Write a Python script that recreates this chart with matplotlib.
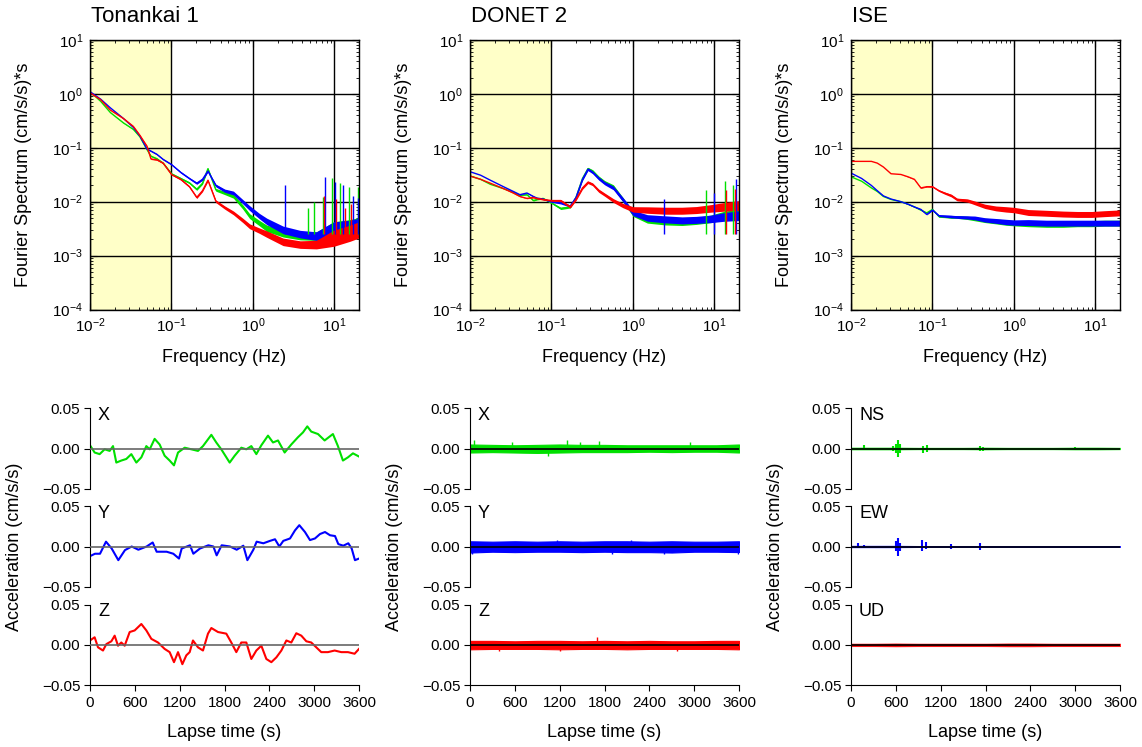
import numpy as np
import matplotlib
matplotlib.use("Agg")
import matplotlib.pyplot as plt
from matplotlib.ticker import LogLocator, FixedLocator, FuncFormatter, NullFormatter

plt.rcParams['font.family'] = ['Liberation Sans', 'DejaVu Sans']
plt.rcParams['mathtext.fontset'] = 'custom'
plt.rcParams['mathtext.rm'] = 'Liberation Sans'
plt.rcParams['mathtext.default'] = 'regular'

GREEN = '#00E000'
BLUE = '#0000FF'
RED = '#FF0000'

# ---------------- spectra ----------------
stations = ['Tonankai 1', 'DONET 2', 'ISE']

f_ton = [0.01, 0.0135, 0.0178, 0.0257, 0.034, 0.041, 0.05, 0.056, 0.066, 0.079, 0.1, 0.13, 0.166, 0.204,
         0.24, 0.28, 0.35, 0.45, 0.575, 0.75, 0.91, 1.2, 1.48, 2.34, 3.8, 6.0, 9.8, 15.5, 20]
ton_blue = [1.1, 0.80, 0.55, 0.35, 0.24, 0.165, 0.095, 0.087, 0.076, 0.061, 0.049, 0.035, 0.027, 0.022,
            0.026, 0.037, 0.020, 0.016, 0.0145, 0.010, 0.0076, 0.0054, 0.0043, 0.0030, 0.0025, 0.0023,
            0.0030, 0.0032, 0.0035]
ton_green = [1.1, 0.73, 0.45, 0.29, 0.22, 0.16, 0.093, 0.070, 0.063, 0.052, 0.033, 0.027, 0.0224, 0.017,
             0.022, 0.041, 0.0166, 0.0145, 0.0126, 0.0080, 0.0054, 0.0040, 0.0032, 0.0026, 0.0023, 0.0023,
             0.0030, 0.0033, 0.0036]
ton_red = [1.05, 0.78, 0.50, 0.35, 0.25, 0.17, 0.107, 0.062, 0.060, 0.052, 0.032, 0.026, 0.019, 0.012,
           0.016, 0.025, 0.0102, 0.0078, 0.0062, 0.0045, 0.0035, 0.0029, 0.0025, 0.0018, 0.0016, 0.0016,
           0.0021, 0.0026, 0.0030]
ton_spread = [0, 0, 0, 0.005, 0.005, 0.005, 0.01, 0.01, 0.01, 0.012, 0.012, 0.015, 0.015, 0.02, 0.02, 0.02,
              0.025, 0.03, 0.035, 0.04, 0.045, 0.05, 0.06, 0.07, 0.07, 0.08, 0.15, 0.15, 0.15]
ton_spikes = {
    GREEN: ([4.8, 5.6, 7.2, 9.3, 11.7, 15.1, 19.5], [0.0076, 0.0098, 0.012, 0.0275, 0.022, 0.019, 0.019]),
    BLUE: ([2.45, 7.6, 10.2, 12.9, 17.0, 19.5], [0.020, 0.029, 0.023, 0.020, 0.0126, 0.0117]),
    RED: ([7.4, 10.5, 13.5, 16.0], [0.0126, 0.011, 0.0078, 0.009]),
}

f_don = [0.01, 0.0135, 0.0178, 0.0257, 0.034, 0.041, 0.05, 0.06, 0.066, 0.079, 0.1, 0.13, 0.17, 0.2,
         0.24, 0.28, 0.32, 0.38, 0.45, 0.575, 0.75, 1.0, 1.5, 2.5, 4, 6, 9, 13, 20]
don_blue = [0.036, 0.031, 0.025, 0.019, 0.0155, 0.0135, 0.0145, 0.0125, 0.0117, 0.0112, 0.0100, 0.0095,
            0.0083, 0.012, 0.026, 0.040, 0.035, 0.027, 0.022, 0.018, 0.011, 0.0062, 0.0050, 0.0047,
            0.0045, 0.0046, 0.0048, 0.0052, 0.0055]
don_green = [0.030, 0.026, 0.021, 0.0175, 0.015, 0.013, 0.0135, 0.0105, 0.0110, 0.0115, 0.0095, 0.0075,
             0.0080, 0.012, 0.027, 0.041, 0.037, 0.028, 0.023, 0.019, 0.011, 0.0060, 0.0046, 0.0043,
             0.0042, 0.0044, 0.0048, 0.0055, 0.0060]
don_red = [0.030, 0.026, 0.022, 0.0175, 0.0145, 0.0125, 0.0115, 0.012, 0.0115, 0.0110, 0.0105, 0.0105,
           0.0080, 0.011, 0.018, 0.023, 0.021, 0.016, 0.0135, 0.0105, 0.0085, 0.0072, 0.0070, 0.0068,
           0.0068, 0.0070, 0.0075, 0.0080, 0.0085]
don_spread = [0, 0, 0, 0, 0.005, 0.005, 0.005, 0.01, 0.01, 0.012, 0.012, 0.02, 0.02, 0.02, 0.025, 0.025,
              0.025, 0.03, 0.03, 0.035, 0.04, 0.05, 0.06, 0.065, 0.065, 0.065, 0.07, 0.08, 0.09]
don_spikes = {
    GREEN: ([7.9, 13.5, 17.0], [0.0166, 0.024, 0.020]),
    BLUE: ([2.4, 9.8, 18.6], [0.011, 0.0145, 0.026]),
    RED: ([14.0, 18.0], [0.0166, 0.017]),
}

f_ise = [0.01, 0.0135, 0.0178, 0.021, 0.025, 0.031, 0.041, 0.05, 0.06, 0.072, 0.085, 0.1, 0.12, 0.14,
         0.17, 0.2, 0.27, 0.33, 0.44, 0.6, 0.8, 1.0, 1.5, 2.5, 4, 6, 9, 13, 20]
ise_red = [0.056, 0.056, 0.056, 0.052, 0.044, 0.033, 0.032, 0.029, 0.026, 0.018, 0.019, 0.019, 0.016,
           0.0145, 0.013, 0.011, 0.0105, 0.0095, 0.0082, 0.0075, 0.0072, 0.0070, 0.0063, 0.0061, 0.0059,
           0.0058, 0.0058, 0.0060, 0.0062]
ise_blue = [0.034, 0.027, 0.020, 0.016, 0.0128, 0.0112, 0.0100, 0.0090, 0.0080, 0.0072, 0.0058, 0.0070,
            0.0055, 0.0054, 0.0053, 0.0052, 0.0051, 0.0050, 0.0046, 0.0044, 0.0042, 0.0041, 0.0041,
            0.0040, 0.0040, 0.0040, 0.0040, 0.0040, 0.0040]
ise_green = [0.029, 0.024, 0.018, 0.0155, 0.0125, 0.0110, 0.0100, 0.0090, 0.0080, 0.0070, 0.0062, 0.0072,
             0.0053, 0.0053, 0.0052, 0.0052, 0.0050, 0.0048, 0.0045, 0.0043, 0.0041, 0.0040, 0.0039,
             0.0038, 0.0038, 0.0039, 0.0039, 0.0040, 0.0040]
ise_spread = [0, 0, 0, 0, 0, 0, 0, 0.005, 0.005, 0.008, 0.008, 0.012, 0.015, 0.02, 0.025, 0.025, 0.03, 0.035,
              0.04, 0.045, 0.05, 0.05, 0.055, 0.055, 0.055, 0.055, 0.055, 0.055, 0.055]
ise_spikes = {}

spectra = [
    (f_ton, ton_green, ton_blue, ton_red, ton_spread, ton_spikes),
    (f_don, don_green, don_blue, don_red, don_spread, don_spikes),
    (f_ise, ise_green, ise_blue, ise_red, ise_spread, ise_spikes),
]

# ---------------- time series ----------------
tx_ton = [0, 62, 129, 196, 263, 308, 352, 419, 486, 553, 620, 687, 754, 799, 865, 932, 999, 1066, 1124,
          1178, 1267, 1356, 1445, 1512, 1624, 1690, 1757, 1869, 1936, 2025, 2092, 2159, 2226, 2293, 2382,
          2449, 2516, 2605, 2694, 2783, 2850, 2908, 2961, 3051, 3140, 3251, 3318, 3385, 3452, 3519, 3600]
ax_ton = [0.004, -0.005, -0.007, -0.001, -0.003, 0.003, -0.0175, -0.015, -0.013, -0.007, -0.0175, -0.011,
          0.003, -0.001, 0.012, 0.005, -0.009, -0.015, -0.021, -0.005, 0.001, -0.001, -0.003, 0.003, 0.017,
          0.0075, -0.001, -0.0175, -0.009, 0.001, -0.001, 0.003, -0.007, 0.004, 0.016, 0.0075, 0.010,
          -0.005, 0.005, 0.014, 0.020, 0.0275, 0.021, 0.018, 0.010, 0.018, 0.003, -0.015, -0.011, -0.006,
          -0.010]
ty_ton = [0, 67, 134, 214, 290, 379, 468, 558, 647, 758, 839, 892, 1026, 1115, 1191, 1227, 1338, 1383,
          1472, 1584, 1651, 1695, 1762, 1874, 1963, 2052, 2106, 2186, 2230, 2320, 2409, 2476, 2534, 2587,
          2677, 2743, 2801, 2877, 2944, 3011, 3078, 3145, 3212, 3279, 3323, 3390, 3457, 3502, 3546, 3600]
ay_ton = [-0.012, -0.009, -0.009, 0.006, -0.0025, -0.017, -0.0045, 0.0, -0.004, 0.0, 0.005, -0.0065,
          -0.0065, -0.009, -0.015, -0.0025, 0.0015, -0.009, -0.0025, 0.0015, 0.0, -0.011, 0.0015, 0.0,
          -0.004, 0.001, -0.017, -0.004, 0.006, 0.004, 0.007, 0.009, 0.0, 0.007, 0.010, 0.020, 0.0265,
          0.018, 0.008, 0.010, 0.0155, 0.018, 0.014, 0.013, 0.003, 0.001, 0.004, -0.0025, -0.017, -0.015]
tz_ton = [0, 62, 107, 174, 219, 286, 330, 375, 419, 464, 531, 598, 687, 754, 821, 910, 999, 1066, 1124,
          1178, 1236, 1289, 1334, 1378, 1445, 1512, 1579, 1624, 1713, 1824, 1891, 1958, 2025, 2092, 2159,
          2226, 2293, 2360, 2427, 2494, 2561, 2628, 2694, 2761, 2828, 2895, 2961, 3028, 3095, 3184, 3274,
          3363, 3452, 3541, 3600]
az_ton = [0.0055, 0.0095, -0.003, -0.007, 0.001, 0.0045, 0.0115, -0.001, 0.003, -0.001, 0.016, 0.018,
          0.026, 0.018, 0.0075, 0.003, -0.005, -0.009, -0.0215, -0.009, -0.024, -0.013, -0.009, 0.0055,
          -0.003, -0.007, 0.014, 0.021, 0.016, 0.014, 0.003, -0.009, 0.003, 0.003, -0.0175, -0.007, -0.001,
          -0.0175, -0.0215, -0.0155, -0.007, 0.0055, 0.003, 0.0145, 0.0115, 0.0045, 0.003, -0.003, -0.009,
          -0.009, -0.007, -0.009, -0.009, -0.011, -0.005]

# noise envelopes, DONET 2
t_env = [0, 300, 600, 900, 1200, 1500, 1800, 2100, 2400, 2700, 3000, 3300, 3600]
don_x_hi = [0.005, 0.0045, 0.004, 0.0045, 0.005, 0.0045, 0.0045, 0.004, 0.004, 0.004, 0.004, 0.004, 0.005]
don_x_lo = [-0.005, -0.0045, -0.005, -0.0055, -0.005, -0.0045, -0.0045, -0.0045, -0.004, -0.0045, -0.004,
            -0.004, -0.005]
don_y_hi = [0.0065, 0.006, 0.0065, 0.006, 0.0065, 0.006, 0.0065, 0.0065, 0.006, 0.0065, 0.006, 0.006, 0.0065]
don_y_lo = [-0.0075, -0.0065, -0.007, -0.0065, -0.0065, -0.007, -0.0065, -0.007, -0.007, -0.0075, -0.0065,
            -0.0065, -0.007]
don_z_hi = [0.005, 0.005, 0.0045, 0.005, 0.005, 0.0045, 0.005, 0.0045, 0.005, 0.0045, 0.0045, 0.005, 0.005]
don_z_lo = [-0.0055, -0.005, -0.005, -0.005, -0.0055, -0.005, -0.005, -0.0055, -0.005, -0.005, -0.005,
            -0.005, -0.0055]
don_x_spk = ([60, 560, 1050, 1300, 1470, 1720, 2950], [0.010, 0.0075, -0.0095, 0.0105, 0.008, 0.009, 0.0075])
don_y_spk = ([30, 1160, 1900, 2150, 2600, 3580], [-0.0095, 0.0075, -0.009, 0.0075, -0.0095, -0.009])
don_z_spk = ([390, 1205, 1704, 2770], [-0.0075, -0.008, 0.0096, -0.0075])

# noise envelopes and bursts, ISE
ise_ns_amp = [0.0012, 0.0012, 0.0012, 0.001, 0.001, 0.001, 0.0012, 0.0010, 0.0010, 0.0010, 0.0012, 0.0012, 0.0010]
ise_ew_amp = [0.0010, 0.0010, 0.0010, 0.0008, 0.0008, 0.0008, 0.0008, 0.0008, 0.0008, 0.0008, 0.0008, 0.0008, 0.0008]
ise_ud_amp = [0.0016, 0.0016, 0.0018, 0.0016, 0.0016, 0.0016, 0.0016, 0.0018, 0.0018, 0.0016, 0.0016, 0.0016, 0.0016]
ise_ns_burst = ([175, 560, 600, 625, 650, 960, 1020, 1720, 1760, 3000],
                [-0.002, -0.003, -0.006, -0.0105, -0.005, -0.006, -0.004, -0.003, -0.003, -0.002],
                [0.004, 0.003, 0.006, 0.011, 0.005, 0.003, 0.004, 0.003, 0.002, 0.002])
ise_ew_burst = ([95, 180, 600, 625, 650, 950, 1000, 1340, 1720],
                [-0.002, -0.002, -0.006, -0.0115, -0.005, -0.005, -0.003, -0.003, -0.004],
                [0.004, 0.002, 0.007, 0.011, 0.004, 0.008, 0.005, 0.003, 0.004])

comp_labels = [['X', 'Y', 'Z'], ['X', 'Y', 'Z'], ['NS', 'EW', 'UD']]
colors = [GREEN, BLUE, RED]

W, H = 1142, 747
fig = plt.figure(figsize=(W / 100, H / 100), dpi=100)

col_left = [90, 470, 851]
ax_w = 269


def fig_rect(x0, y_top, w, h):
    return [x0 / W, 1 - (y_top + h) / H, w / W, h / H]


def sci(v, pos):
    return r'$10^{%d}$' % int(round(np.log10(v)))


# ---------------- top row ----------------
for i, (f, g, b, r, spread, spikes) in enumerate(spectra):
    ax = fig.add_axes(fig_rect(col_left[i], 40, ax_w, 269.5))
    ax.set_xscale('log')
    ax.set_yscale('log')
    ax.set_xlim(0.01, 20)
    ax.set_ylim(1e-4, 10)
    ax.axvspan(0.01, 0.1, color='#FFFFC8', zorder=0.5, lw=0)
    s = np.array(spread)
    for vals, c in [(g, GREEN), (b, BLUE), (r, RED)]:
        v = np.array(vals)
        ax.fill_between(f, v * 10 ** -s, v * 10 ** s, color=c, lw=0, zorder=2)
        ax.plot(f, v, color=c, lw=1, zorder=2)
    for c in [GREEN, BLUE, RED]:
        if c in spikes:
            fs, tops = spikes[c]
            ax.vlines(fs, 0.0025, tops, color=c, lw=1, zorder=2)
    ax.grid(True, which='major', color='black', lw=1)
    ax.xaxis.set_major_locator(FixedLocator([0.01, 0.1, 1, 10]))
    ax.xaxis.set_major_formatter(FuncFormatter(sci))
    ax.yaxis.set_major_locator(FixedLocator([1e-4, 1e-3, 1e-2, 1e-1, 1, 10]))
    ax.yaxis.set_major_formatter(FuncFormatter(sci))
    ax.xaxis.set_minor_locator(LogLocator(base=10, subs=np.arange(2, 10), numticks=20))
    ax.yaxis.set_minor_locator(LogLocator(base=10, subs=np.arange(2, 10), numticks=20))
    ax.xaxis.set_minor_formatter(NullFormatter())
    ax.yaxis.set_minor_formatter(NullFormatter())
    ax.tick_params(which='both', direction='in', top=True, right=True, labelsize=11, color='black')
    ax.tick_params(which='major', length=5, pad=5)
    ax.tick_params(which='minor', length=2.5)
    for sp in ax.spines.values():
        sp.set_linewidth(1)
    ax.set_xlabel('Frequency (Hz)', fontsize=13)
    ax.xaxis.set_label_coords(0.5, -0.147)
    ax.set_ylabel('Fourier Spectrum (cm/s/s)*s', fontsize=13)
    ax.yaxis.set_label_coords(-0.217, 0.5)
    fig.text(col_left[i] / W + 0.001, 1 - 17 / H, stations[i], fontsize=16, ha='left', va='center')

# ---------------- bottom rows ----------------
row_top = [408.3, 506.3, 604.7]
row_h = 80.4


def pm(v, pos):
    return ('%.2f' % v).replace('-', '\u2212')


ton_series = [(tx_ton, ax_ton), (ty_ton, ay_ton), (tz_ton, az_ton)]
don_bands = [(don_x_lo, don_x_hi, don_x_spk), (don_y_lo, don_y_hi, don_y_spk), (don_z_lo, don_z_hi, don_z_spk)]
ise_amps = [ise_ns_amp, ise_ew_amp, ise_ud_amp]
ise_bursts = [ise_ns_burst, ise_ew_burst, None]

for i in range(3):
    for j in range(3):
        ax = fig.add_axes(fig_rect(col_left[i], row_top[j], ax_w, row_h))
        ax.set_xlim(0, 3600)
        ax.set_ylim(-0.05, 0.05)
        c = colors[j]
        if i == 0:
            t, a = ton_series[j]
            ax.plot(t, a, color=c, lw=1.5, zorder=2)
            ax.axhline(0, color='#666666', lw=1.2, zorder=3)
        elif i == 1:
            lo, hi, spk = don_bands[j]
            ax.fill_between(t_env, lo, hi, color=c, lw=0.8, edgecolor=c, zorder=2)
            ts, vs = spk
            ax.vlines(ts, 0, vs, color=c, lw=1, zorder=2)
            ax.axhline(0, color='black', lw=1.2, zorder=3)
        else:
            amp = np.array(ise_amps[j])
            ax.fill_between(t_env, -amp, amp, color=c, lw=0.5, edgecolor=c, zorder=2)
            if ise_bursts[j] is not None:
                ts, lo, hi = ise_bursts[j]
                ax.vlines(ts, lo, hi, color=c, lw=1.5, zorder=2)
            ax.axhline(0, color='black', lw=1.2, zorder=3)
        ax.spines['top'].set_visible(False)
        ax.spines['right'].set_visible(False)
        ax.set_yticks([-0.05, 0, 0.05])
        ax.yaxis.set_major_formatter(FuncFormatter(pm))
        ax.tick_params(axis='y', direction='out', length=4, labelsize=11, pad=3)
        if j < 2:
            ax.spines['bottom'].set_visible(False)
            ax.set_xticks([])
        else:
            ax.set_xticks(range(0, 3601, 600))
            ax.tick_params(axis='x', direction='out', length=4, labelsize=11, pad=4)
            ax.set_xlabel('Lapse time (s)', fontsize=13)
            ax.xaxis.set_label_coords(0.5, -0.49)
        if j == 1:
            ax.set_ylabel('Acceleration (cm/s/s)', fontsize=13)
            ax.yaxis.set_label_coords(-0.248, 0.5)
        ax.text(0.03, 0.91, comp_labels[i][j], transform=ax.transAxes, fontsize=13, ha='left', va='center')

fig.savefig('out.png', dpi=100)
